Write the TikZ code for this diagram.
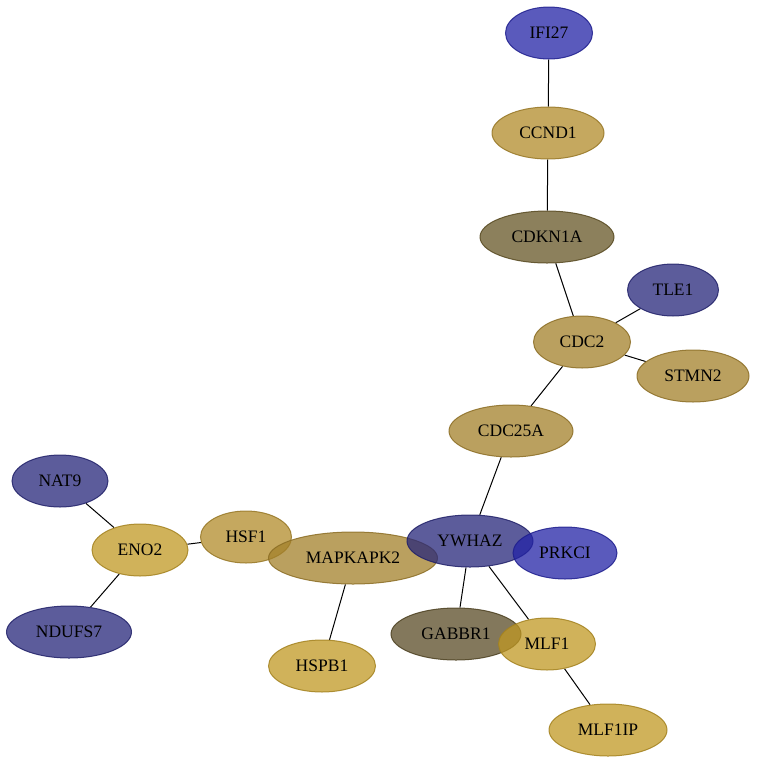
\documentclass[tikz,border=0pt]{standalone}
\usepackage{fontspec}
\setmainfont{Liberation Serif}
\usepackage{xcolor}
\usetikzlibrary{shapes.geometric,backgrounds}

\definecolor{bluegrey}{RGB}{38,38,122}
\definecolor{brightblue}{RGB}{35,35,166}
\definecolor{goldA}{RGB}{192,152,35}
\definecolor{goldB}{RGB}{177,139,42}
\definecolor{goldC}{RGB}{163,128,42}
\definecolor{oliveA}{RGB}{102,86,38}
\definecolor{oliveB}{RGB}{89,75,38}

\tikzset{
  gene/.style={ellipse, inner sep=0pt, minimum height=52pt, line width=1pt,
    fill opacity=0.75, draw opacity=0.85, text opacity=1,
    font=\fontsize{17.5}{20}\selectfont},
  link/.style={line width=1pt, black}
}

\begin{document}
\begin{tikzpicture}[x=1pt, y=-1pt]
  \useasboundingbox (0,0) rectangle (756,764);
  \foreach \n/\x/\y/\w/\c in {
      IFI27/549/33/87/brightblue, CCND1/548/133/112/goldB,
      CDKN1A/547/237/134/oliveA, TLE1/673/290/91/bluegrey,
      CDC2/582/342/97/goldC, STMN2/693/376/112/goldC,
      CDC25A/511/431/124/goldC, NAT9/60/481/96/bluegrey,
      ENO2/140/550/96/goldA, NDUFS7/69/632/125/bluegrey,
      HSF1/246/537/91/goldB, MAPKAPK2/353/558/169/goldC,
      YWHAZ/470/541/126/bluegrey, PRKCI/565/553/104/brightblue,
      GABBR1/456/634/130/oliveB, MLF1/547/644/97/goldA,
      HSPB1/322/666/107/goldA, MLF1IP/608/730/118/goldA} {
    \node[gene, minimum width=\w, fill=\c, draw=\c!85!black] (\n) at (\x,\y) {\n};
  }
  \begin{scope}[on background layer]
    \foreach \a/\b in {IFI27/CCND1, CCND1/CDKN1A, CDKN1A/CDC2, CDC2/TLE1,
        CDC2/STMN2, CDC2/CDC25A, CDC25A/YWHAZ, NAT9/ENO2, ENO2/NDUFS7,
        ENO2/HSF1, MAPKAPK2/HSPB1, YWHAZ/GABBR1, YWHAZ/MLF1, MLF1/MLF1IP} {
      \draw[link] (\a) -- (\b);
    }
  \end{scope}
\end{tikzpicture}
\end{document}
